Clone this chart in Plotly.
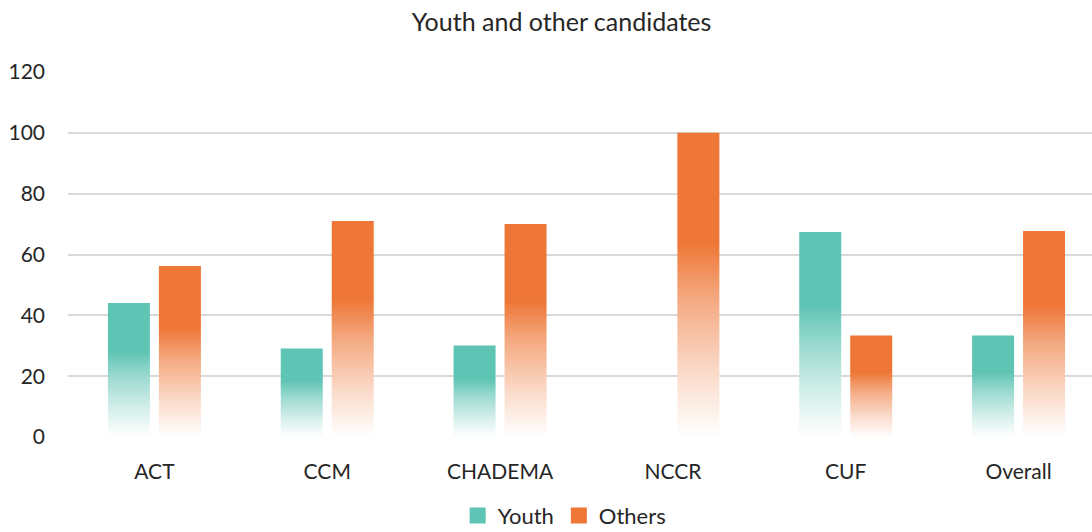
import plotly.graph_objects as go

categories = ["ACT", "CCM", "CHADEMA", "NCCR", "CUF", "Overall"]
youth = [44.1, 29.1, 30.1, 0, 67.4, 33.4]
others = [56.2, 71.0, 70.0, 100, 33.4, 67.7]
series_names = ["Youth", "Others"]
y_ticks = [0, 20, 40, 60, 80, 100, 120]

colors = {"Youth": (94, 196, 180), "Others": (238, 118, 54)}
FONT = "Lato, 'Open Sans', sans-serif"
TEXT = "#262626"

# bar geometry in category units
half_gap = 0.026
bar_w = 0.243


def rgb_str(rgb):
    return "rgb(%d,%d,%d)" % rgb


def scale_for(rgb):
    r, g, b = rgb
    def mix(t):
        return "rgb(%d,%d,%d)" % (round(255 + (r - 255) * t), round(255 + (g - 255) * t), round(255 + (b - 255) * t))
    return [[0.0, mix(0.0)], [0.2, mix(0.25)], [0.45, mix(0.62)], [0.64, mix(1.0)], [1.0, mix(1.0)]]


fig = go.Figure()
for s_idx, (name, vals) in enumerate(zip(series_names, [youth, others])):
    for i, v in enumerate(vals):
        if v <= 0:
            continue
        if s_idx == 0:
            x0, x1 = i - half_gap - bar_w, i - half_gap
        else:
            x0, x1 = i + half_gap, i + half_gap + bar_w
        fig.add_trace(go.Scatter(
            x=[x0, x1, x1, x0, x0],
            y=[0, 0, v, v, 0],
            mode="none",
            fill="toself",
            fillcolor=rgb_str(colors[name]),
            fillgradient=dict(type="vertical", colorscale=scale_for(colors[name]), start=0, stop=v),
            name=name,
            legendgroup=name,
            showlegend=False,
            hoverinfo="skip",
        ))
    # legend entry (square swatch)
    fig.add_trace(go.Scatter(
        x=[None], y=[None], mode="markers",
        marker=dict(symbol="square", size=17, color=rgb_str(colors[name])),
        name=name, legendgroup=name, showlegend=True, hoverinfo="skip",
    ))

fig.update_layout(
    width=1092, height=532,
    autosize=False,
    margin=dict(l=68, r=0, t=71, b=94, autoexpand=False),
    paper_bgcolor="white", plot_bgcolor="white",
    font=dict(family=FONT, size=21, color=TEXT),
    title=dict(text="Youth and other candidates", x=0.482, xref="paper", xanchor="center",
               y=0.958, yanchor="middle", yref="container",
               font=dict(family=FONT, size=25, color=TEXT)),
    showlegend=True,
    legend=dict(orientation="h", x=0.485, xanchor="center", y=-0.212, yanchor="middle",
                font=dict(family=FONT, size=22, color=TEXT), itemwidth=30, tracegroupgap=0),
    xaxis=dict(range=[-0.5, 5.425], tickmode="array", tickvals=list(range(len(categories))),
               ticktext=categories, showgrid=False, zeroline=False, showline=False,
               ticks="", ticklabelstandoff=19, tickangle=0, automargin=False),
    yaxis=dict(range=[-0.3, 120.3], tickmode="array", tickvals=y_ticks, showgrid=True,
               gridcolor="#d9d9d9", gridwidth=2, zeroline=False, showline=False,
               ticks="", ticklabelstandoff=22, automargin=False),
)

fig.write_html("out.html")
